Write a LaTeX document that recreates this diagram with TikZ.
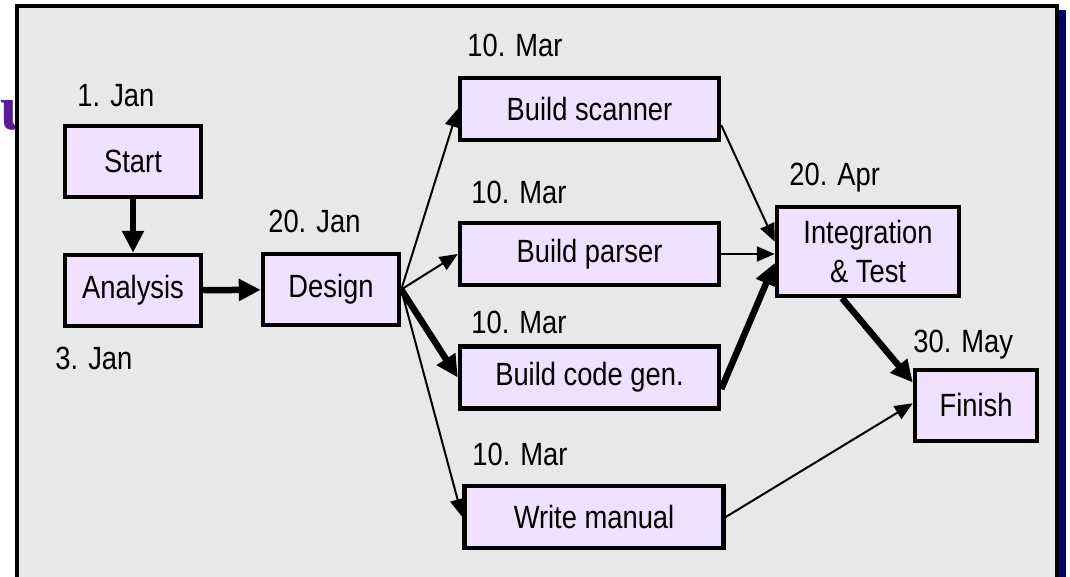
\documentclass[tikz,border=0pt]{standalone}
\usepackage{fontspec}
\setmainfont{Liberation Sans}[FakeStretch=0.85]
\newfontfamily\titlefont{Liberation Serif}
\usetikzlibrary{arrows.meta}

\definecolor{taskfill}{RGB}{239,225,253}
\definecolor{panelgray}{RGB}{232,232,232}
\definecolor{panelshadow}{RGB}{0,0,102}
\definecolor{titlepurple}{RGB}{88,28,150}

\begin{document}
\begin{tikzpicture}[x=0.02cm, y=-0.02cm,
        task/.style={rectangle, draw=black, line width=0.09cm, fill=taskfill,
                     align=center, inner sep=0pt, font=\fontsize{18.3}{22.7}\selectfont},
        date/.style={anchor=base west, inner sep=0pt, font=\fontsize{18.3}{22.7}\selectfont},
        arr/.style={-{Triangle[length=0.36cm,width=0.3cm]}, line width=0.04cm},
        crit/.style={-{Triangle[length=0.44cm,width=0.42cm]}, line width=0.13cm}]
      \useasboundingbox (0,0) rectangle (1070,577);
      \clip (0,0) rectangle (1070,577);
      % title letter showing behind the panel
      \node[anchor=base west, inner sep=0pt, text=titlepurple,
            font=\titlefont\bfseries\fontsize{36}{40}\selectfont] (title) at (0,130) {u};
      % panel and its shadow
      \fill[panelshadow] (24,10) rectangle (1066,620);
      \filldraw[fill=panelgray, draw=black, line width=0.09cm] (17,6) rectangle (1057,620);

      % tasks
      \node[task, minimum width=2.72cm, minimum height=1.42cm] (start) at (133,161.5) {Start};
      \node[task, minimum width=2.72cm, minimum height=1.42cm] (analysis) at (133,290.5) {Analysis};
      \node[task, minimum width=2.72cm, minimum height=1.42cm] (design) at (331,289.5) {Design};
      \node[task, minimum width=5.18cm, minimum height=1.24cm] (scanner) at (589.5,109) {Build scanner};
      \node[task, minimum width=5.18cm, minimum height=1.24cm] (parser) at (589.5,254) {Build parser};
      \node[task, minimum width=5.18cm, minimum height=1.24cm] (codegen) at (589.5,377.5) {Build code gen.};
      \node[task, minimum width=5.18cm, minimum height=1.24cm] (manual) at (594,517) {Write manual};
      \node[task, minimum width=3.64cm, minimum height=1.78cm] (integ) at (868,251.5) {Integration\\\& Test};
      \node[task, minimum width=2.44cm, minimum height=1.42cm] (finish) at (976,405.5) {Finish};

      % dates
      \node[date] (d-start) at (77,107) {1. Jan};
      \node[date] (d-analysis) at (55,369) {3. Jan};
      \node[date] (d-design) at (268,233) {20. Jan};
      \node[date] (d-scanner) at (467,57) {10. Mar};
      \node[date] (d-parser) at (471,204) {10. Mar};
      \node[date] (d-codegen) at (471,333) {10. Mar};
      \node[date] (d-manual) at (472,465) {10. Mar};
      \node[date] (d-integ) at (789,186) {20. Apr};
      \node[date] (d-finish) at (913,352) {30. May};

      % dependencies, thick ones on the critical path
      \draw[crit] (start) -- (analysis);
      \draw[crit] (analysis) -- (design);
      \draw[arr] (design.east) -- (scanner.west);
      \draw[arr] (design.east) -- (parser.west);
      \draw[crit] (design.east) -- (codegen.west);
      \draw[arr] (design.east) -- (manual.west);
      \draw[arr] (scanner.-7) -- (integ.174);
      \draw[arr] (parser.east) -- (parser.east -| integ.west);
      \draw[crit] (codegen.-5.5) -- (integ.187);
      \draw[crit] (integ.241) -- (finish.160);
      \draw[arr] (manual.east) -- (finish.178);
    \end{tikzpicture}
\end{document}
